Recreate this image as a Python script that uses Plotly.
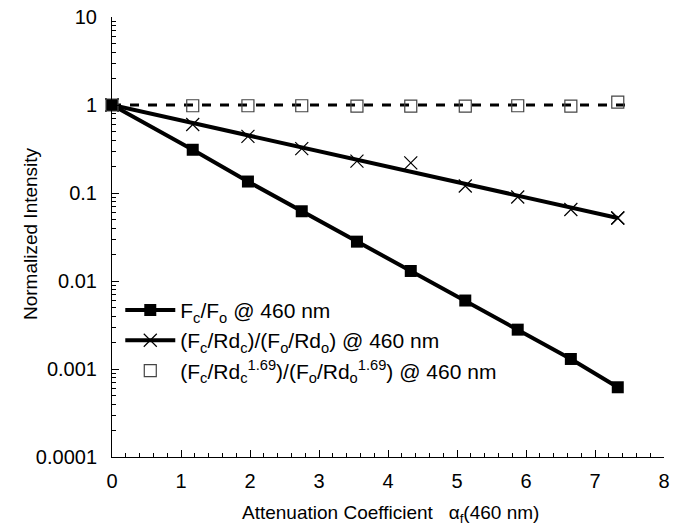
import plotly.graph_objects as go

# Data
x_vals = [0, 1.17, 1.97, 2.75, 3.55, 4.33, 5.12, 5.88, 6.65, 7.33]
fc_fo = [1.0, 0.31, 0.135, 0.062, 0.028, 0.013, 0.006, 0.0028, 0.0013, 0.00062]
fc_rd = [1.0, 0.60, 0.44, 0.32, 0.23, 0.22, 0.12, 0.09, 0.065, 0.052]
fc_rd169 = [1.0, 0.98, 0.98, 0.98, 0.97, 0.97, 0.97, 0.98, 0.97, 1.08]

# fitted lines
fit_rd_x = [0, 7.33]
fit_rd_y = [1.0, 0.052]
flat_x = [0, 7.45]
flat_y = [1.0, 1.0]

y_tickvals = [0.0001, 0.001, 0.01, 0.1, 1, 10]
y_ticktext = ["0.0001", "0.001", "0.01", "0.1", "1", "10"]

FONT = "Liberation Sans, Arial, sans-serif"

fig = go.Figure()

fig.add_trace(go.Scatter(x=flat_x, y=flat_y, mode="lines",
                         line=dict(color="black", width=3, dash="dash"),
                         showlegend=False, hoverinfo="skip"))

fig.add_trace(go.Scatter(
    x=x_vals, y=fc_fo, mode="lines+markers",
    name="F<sub>c</sub>/F<sub>o</sub> @ 460 nm",
    line=dict(color="black", width=4),
    marker=dict(symbol="square", size=12, color="black"),
    cliponaxis=False))

fig.add_trace(go.Scatter(
    x=fit_rd_x, y=fit_rd_y, mode="lines+markers",
    name="(F<sub>c</sub>/Rd<sub>c</sub>)/(F<sub>o</sub>/Rd<sub>o</sub>) @ 460 nm",
    line=dict(color="black", width=4),
    marker=dict(symbol="x-thin-open", size=13, color="black", line=dict(width=1.2, color="black")),
    cliponaxis=False))

fig.add_trace(go.Scatter(
    x=x_vals, y=fc_rd, mode="markers", showlegend=False,
    marker=dict(symbol="x-thin-open", size=13, color="black", line=dict(width=1.2, color="black")),
    cliponaxis=False))

fig.add_trace(go.Scatter(
    x=x_vals, y=fc_rd169, mode="markers",
    name="(F<sub>c</sub>/Rd<sub>c</sub><sup>1.69</sup>)/(F<sub>o</sub>/Rd<sub>o</sub><sup>1.69</sup>) @ 460 nm",
    marker=dict(symbol="square-open", size=12, color="#444", line=dict(width=1.2, color="#444")),
    cliponaxis=False))

fig.update_layout(
    width=677, height=531,
    margin=dict(l=112, r=13, t=17, b=74),
    plot_bgcolor="white", paper_bgcolor="white",
    font=dict(family=FONT, color="black", size=19),
    legend=dict(x=0.015, y=0.38, xanchor="left", yanchor="top",
                bgcolor="rgba(0,0,0,0)", font=dict(size=21, family=FONT),
                tracegroupgap=0, itemwidth=50),
    xaxis=dict(range=[0, 8], dtick=1, tick0=0, showline=True, linecolor="black",
               linewidth=1, ticks="inside", ticklen=7, tickcolor="black",
               showgrid=False, zeroline=False, mirror=False, automargin=False,
               tickfont=dict(size=20, family=FONT), ticklabelstandoff=6,
               ticklabeloverflow="allow",
               minor=dict(ticks="inside", ticklen=4, dtick=0.2, tickcolor="black", showgrid=False)),
    yaxis=dict(type="log", range=[-4, 1], tickvals=y_tickvals, ticktext=y_ticktext,
               showline=True, linecolor="black", linewidth=1, automargin=False,
               ticks="inside", ticklen=7, tickcolor="black",
               showgrid=False, zeroline=False, ticklabeloverflow="allow",
               tickfont=dict(size=20, family=FONT), ticklabelstandoff=10,
               minor=dict(ticks="inside", ticklen=4, tickcolor="black", showgrid=False,
                          tickvals=[m * 10.0 ** e for e in range(-4, 1) for m in range(2, 10)])),
    annotations=[
        dict(text="Attenuation Coefficient   α<sub>f</sub>(460 nm)", xref="paper", yref="paper",
             x=0.505, y=-57 / 440, xanchor="center", yanchor="middle", showarrow=False,
             font=dict(size=19, family=FONT)),
        dict(text="Normalized Intensity", xref="paper", yref="paper",
             x=(30 - 112) / 552, y=(457 - 234) / 440, xanchor="center", yanchor="middle",
             textangle=-90, showarrow=False, font=dict(size=19, family=FONT)),
    ],
)

# remove the browser's default 8px body margin so the figure fills the window exactly
fig.write_html("out.html", config={"displayModeBar": False},
               post_script="document.body.style.margin='0';document.body.style.overflow='hidden';")
